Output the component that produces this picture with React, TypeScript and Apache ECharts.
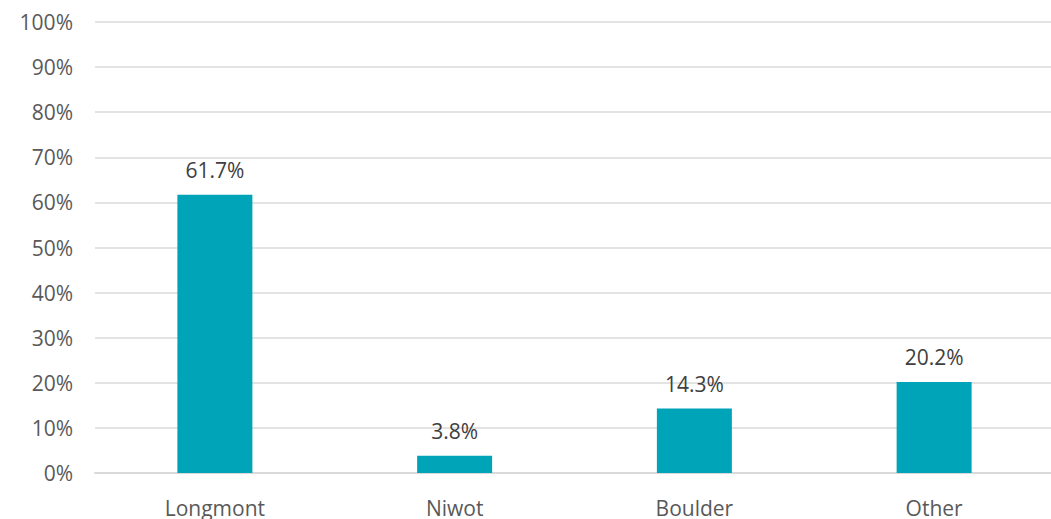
import React, { useEffect, useRef } from "react";
import * as echarts from "echarts";

const categories = ["Longmont", "Niwot", "Boulder", "Other"];
const values = [61.7, 3.8, 14.3, 20.2];
const yTicks = [0, 10, 20, 30, 40, 50, 60, 70, 80, 90, 100];

export default function App() {
  const ref = useRef<HTMLDivElement>(null);
  useEffect(() => {
    const chart = echarts.init(ref.current!, null, { renderer: "svg" });
    const font = "'Open Sans', 'Noto Sans', sans-serif";
    chart.setOption({
      animation: false,
      backgroundColor: "#ffffff",
      grid: { left: 95, right: 1, top: 22, bottom: 46, containLabel: false },
      xAxis: {
        type: "category",
        data: categories,
        axisLine: { show: true, lineStyle: { color: "#d9d9d9", width: 2 } },
        axisTick: { show: false },
        axisLabel: { color: "#595959", fontSize: 21, fontFamily: font, margin: 24 },
      },
      yAxis: {
        type: "value",
        min: yTicks[0],
        max: yTicks[yTicks.length - 1],
        interval: 10,
        axisLine: { show: false },
        axisTick: { show: false },
        splitLine: { lineStyle: { color: "#e3e3e3", width: 2 } },
        axisLabel: {
          color: "#595959",
          fontSize: 21,
          fontFamily: font,
          margin: 22,
          formatter: (v: number) => v + "%",
        },
      },
      series: [
        {
          type: "bar",
          data: values,
          barWidth: 75,
          itemStyle: { color: "#00A4B8" },
          label: {
            show: true,
            position: "top",
            distance: 14,
            color: "#404040",
            fontSize: 21,
            fontFamily: font,
            formatter: (p: any) => p.value.toFixed(1) + "%",
          },
        },
      ],
    });
    return () => chart.dispose();
  }, []);
  return (
    <div
      style={{
        position: "absolute",
        left: 0,
        top: 0,
        width: 1051,
        height: 519,
        overflow: "hidden",
      }}
    >
      <div ref={ref} style={{ width: 1055, height: 519 }} />
    </div>
  );
}
